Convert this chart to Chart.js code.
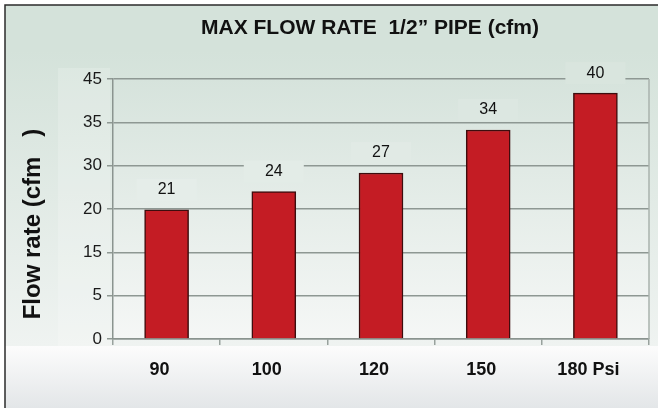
<!DOCTYPE html>
<html><head><meta charset="utf-8">
<script src="https://cdn.jsdelivr.net/npm/chart.js@4/dist/chart.umd.min.js"></script>
<style>html,body{margin:0;padding:0;background:#fff}canvas{display:block}</style>
</head><body>
<canvas id="c" width="658" height="408"></canvas>
<script>
const categories = ['90', '100', '120', '150', '180 Psi'];
const flowValues = [21, 24, 27, 34, 40];
const yTickLabels = ['0', '5', '15', '20', '30', '35', '45'];
const yMax = 42.3;
const chartTitle = 'MAX FLOW RATE  1/2\u201D PIPE (cfm)';
const yTitle = 'Flow rate (cfm   )';

const FONT = '"Liberation Sans", Arial, sans-serif';

const bgPlugin = {
  id: 'bg',
  beforeDraw(chart) {
    const ctx = chart.ctx, a = chart.chartArea;
    ctx.save();
    ctx.fillStyle = '#ffffff';
    ctx.fillRect(0, 0, 658, 408);
    let g = ctx.createLinearGradient(0, 50, 0, 346);
    g.addColorStop(0, '#d4e2da');
    g.addColorStop(1, '#eff3f1');
    ctx.fillStyle = '#d4e2da';
    ctx.fillRect(5, 5, 653, 50);
    ctx.fillStyle = g;
    ctx.fillRect(5, 50, 653, 296);
    ctx.fillStyle = 'rgba(255,255,255,0.18)';
    ctx.fillRect(58, 68, 52, 278);
    g = ctx.createLinearGradient(0, 346, 0, 408);
    g.addColorStop(0, '#fcfcfc');
    g.addColorStop(1, '#e3e6e8');
    ctx.fillStyle = g;
    ctx.fillRect(5, 346, 653, 62);
    g = ctx.createLinearGradient(0, a.top, 0, a.bottom);
    g.addColorStop(0, '#d6e3dc');
    g.addColorStop(1, '#f5f7f6');
    ctx.fillStyle = g;
    ctx.fillRect(a.left, a.top, a.right - a.left, a.bottom - a.top);
    ctx.strokeStyle = '#2b2b2b';
    ctx.lineWidth = 1.5;
    ctx.beginPath();
    ctx.moveTo(5, 408); ctx.lineTo(5, 5); ctx.lineTo(658, 5);
    ctx.stroke();
    ctx.restore();
  },
  afterDraw(chart) {
    const ctx = chart.ctx, a = chart.chartArea;
    ctx.save();
    ctx.strokeStyle = '#a9b2ad';
    ctx.lineWidth = 1.5;
    ctx.beginPath();
    ctx.moveTo(a.right, a.top); ctx.lineTo(a.right, a.bottom);
    ctx.stroke();
    ctx.fillStyle = '#111';
    ctx.font = 'bold 21px ' + FONT;
    ctx.textAlign = 'center';
    ctx.textBaseline = 'middle';
    ctx.fillText(chartTitle, 370, 28);
    ctx.translate(33, 224);
    ctx.rotate(-Math.PI / 2);
    ctx.font = 'bold 24px ' + FONT;
    ctx.fillText(yTitle, 0, 0);
    ctx.restore();
  }
};

const labelPlugin = {
  id: 'vlabels',
  afterDatasetsDraw(chart) {
    const ctx = chart.ctx, a = chart.chartArea;
    const meta = chart.getDatasetMeta(0);
    ctx.save();
    ctx.font = '16px ' + FONT;
    ctx.textAlign = 'center';
    ctx.textBaseline = 'middle';
    meta.data.forEach((bar, i) => {
      const cy = bar.y - 20;
      const t = Math.max(0, Math.min(1, (cy - a.top) / (a.bottom - a.top)));
      const r = Math.round(217 + (246 - 217) * t), gg = Math.round(229 + (248 - 229) * t), b = Math.round(222 + (247 - 222) * t);
      ctx.fillStyle = `rgb(${r},${gg},${b})`;
      ctx.fillRect(bar.x - 30, cy - 11, 60, 22);
      ctx.fillStyle = '#111';
      ctx.fillText(String(flowValues[i]), bar.x, cy);
    });
    ctx.restore();
  }
};

new Chart(document.getElementById('c'), {
  type: 'bar',
  data: {
    labels: categories,
    datasets: [{
      data: flowValues,
      backgroundColor: '#c41c24',
      borderColor: '#3d0d0e',
      borderWidth: 1.5,
      barThickness: 44
    }]
  },
  options: {
    responsive: false,
    animation: false,
    devicePixelRatio: 1,
    layout: { padding: { left: 0, top: 79, right: 9, bottom: 0 } },
    plugins: { legend: { display: false }, tooltip: { enabled: false }, title: { display: false } },
    scales: {
      x: {
        offset: true,
        grid: { display: true, drawOnChartArea: false, offset: true, tickLength: 6, color: '#98a29d', lineWidth: 1.5 },
        border: { display: true, color: '#8a948f', width: 1.5 },
        ticks: { color: '#111', font: { family: FONT, size: 18, weight: 'bold' }, padding: 14, labelOffset: -7, maxRotation: 0 },
        afterFit(s) { s.height = 69; }
      },
      y: {
        min: 0,
        max: yMax,
        grid: { color: '#8e9893', lineWidth: 1.5, tickLength: 6 },
        border: { display: true, color: '#8a948f', width: 1.5 },
        afterBuildTicks(s) {
          s.ticks = yTickLabels.map((_, i) => ({ value: i * yMax / (yTickLabels.length - 1) }));
        },
        ticks: {
          color: '#1a1a1a',
          font: { family: FONT, size: 17 },
          padding: 5,
          callback: (v, i) => yTickLabels[i]
        },
        afterFit(s) { s.width = 113; }
      }
    }
  },
  plugins: [bgPlugin, labelPlugin]
});
</script>
</body></html>
